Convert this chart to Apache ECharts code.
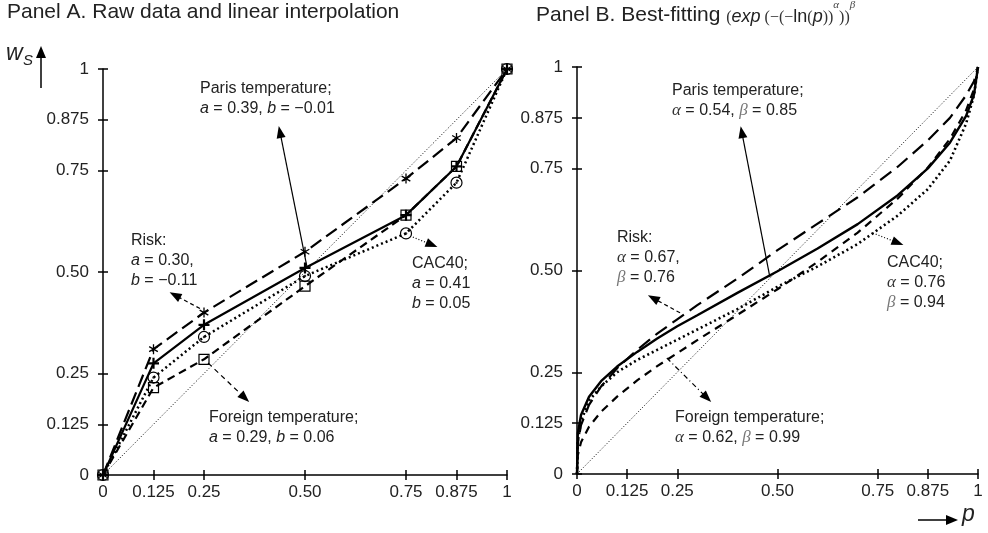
<!DOCTYPE html>
<html><head><meta charset="utf-8">
<script src="https://cdn.jsdelivr.net/npm/echarts@6/dist/echarts.min.js"></script>
<style>html,body{margin:0;padding:0;background:#fff}#c{width:988px;height:533px}</style>
</head><body><div id="c"></div>
<script>
// ---- tick values / labels
const tickValues = [0, 0.125, 0.25, 0.5, 0.75, 0.875, 1];
const tickLabels = ['0', '0.125', '0.25', '0.50', '0.75', '0.875', '1'];

// ---- Panel A: raw data
const rawP       = [0, 0.125, 0.25, 0.5, 0.75, 0.875, 1];
const rawRisk    = [0, 0.31, 0.40, 0.55, 0.73, 0.83, 1];
const rawParis   = [0, 0.275, 0.37, 0.51, 0.64, 0.76, 1];
const rawCAC40   = [0, 0.24, 0.34, 0.49, 0.595, 0.72, 1];
const rawForeign = [0, 0.215, 0.285, 0.465, 0.64, 0.76, 1];

// ---- Panel B: fitted curves
const fitP       = [0, 0.002, 0.01, 0.03, 0.06, 0.1, 0.15, 0.2, 0.25, 0.3, 0.4, 0.5, 0.6, 0.7, 0.8, 0.875, 0.93, 0.97, 0.99, 1];
const fitRisk    = [0, 0.075, 0.12, 0.17, 0.215, 0.26, 0.305, 0.345, 0.38, 0.415, 0.48, 0.55, 0.615, 0.68, 0.755, 0.82, 0.875, 0.93, 0.965, 1];
const fitParis   = [0, 0.10, 0.145, 0.19, 0.228, 0.264, 0.30, 0.333, 0.363, 0.39, 0.445, 0.498, 0.554, 0.614, 0.685, 0.751, 0.814, 0.879, 0.932, 1];
const fitCAC40   = [0, 0.08, 0.13, 0.18, 0.215, 0.25, 0.28, 0.305, 0.33, 0.355, 0.405, 0.46, 0.51, 0.565, 0.635, 0.70, 0.77, 0.86, 0.93, 1];
const fitForeign = [0, 0.046, 0.078, 0.116, 0.153, 0.19, 0.23, 0.265, 0.297, 0.329, 0.391, 0.454, 0.521, 0.593, 0.677, 0.753, 0.823, 0.893, 0.945, 1];

const diagP = [0, 1];
const diagW = [0, 1];

const FONT = 'Liberation Sans';
const INK = '#000';
const TXT = '#222';

function labelFor(v) {
  for (let i = 0; i < tickValues.length; i++) if (Math.abs(tickValues[i] - v) < 1e-9) return tickLabels[i];
  return '';
}
function pairs(xs, ys) { return xs.map((x, i) => [x, ys[i]]); }

function axisPair(kind, gridIndex) {
  const pos = kind === 'x' ? 'bottom' : 'left';
  const main = {
    type: 'value', gridIndex, min: 0, max: 1, position: pos, offset: 0,
    axisLine: { show: true, onZero: false, lineStyle: { color: INK, width: 1.5 } },
    axisTick: { show: true, customValues: tickValues, length: 5, lineStyle: { color: INK, width: 1.5 } },
    axisLabel: { customValues: tickValues, formatter: labelFor, color: TXT, fontSize: 17, fontFamily: FONT, margin: kind === 'x' ? 9 : 14 },
    splitLine: { show: false }
  };
  const inner = {
    type: 'value', gridIndex, min: 0, max: 1, position: pos, offset: 0,
    axisLine: { show: false },
    axisTick: { show: true, inside: true, customValues: tickValues, length: 5, lineStyle: { color: INK, width: 1.5 } },
    axisLabel: { show: false },
    splitLine: { show: false }
  };
  return [main, inner];
}

const ASTER = 'path://M0,-1L0,1M-0.866,-0.5L0.866,0.5M-0.866,0.5L0.866,-0.5';
const PLUS = 'path://M0,-1L0,1M-1,0L1,0';

function arrow(from, to, type, width) {
  return [
    { coord: from, symbol: 'none', lineStyle: { color: INK, type: type, width: width || 1.2 } },
    { coord: to, symbol: 'triangle', symbolSize: [9, 12], itemStyle: { color: INK } }
  ];
}

function diagSeries(xi, yi, arrows) {
  return {
    type: 'line', xAxisIndex: xi, yAxisIndex: yi, data: pairs(diagP, diagW), symbol: 'none',
    lineStyle: { color: INK, width: 1, type: [1, 2] }, z: 1,
    markLine: {
      silent: true, symbol: ['none', 'triangle'], symbolSize: 11,
      label: { show: false }, itemStyle: { color: INK }, lineStyle: { color: INK },
      data: arrows
    }
  };
}

const series = [
  // ---------- Panel A
  diagSeries(0, 0, [
    arrow([0.505, 0.512], [0.438, 0.845], 'solid', 1.2),
    arrow([0.24, 0.41], [0.178, 0.443], [4, 3], 1.2),
    arrow([0.767, 0.586], [0.814, 0.567], [1, 2], 1.2),
    arrow([0.26, 0.276], [0.351, 0.19], [5, 4], 1.2)
  ]),
  { type: 'line', xAxisIndex: 0, yAxisIndex: 0, data: pairs(rawP, rawRisk),
    symbol: ASTER, symbolSize: 10, symbolKeepAspect: true,
    itemStyle: { color: 'transparent', borderColor: INK, borderWidth: 1.3 },
    lineStyle: { color: INK, width: 2.2, type: [13, 6] }, z: 3 },
  { type: 'line', xAxisIndex: 0, yAxisIndex: 0, data: pairs(rawP, rawParis),
    symbol: PLUS, symbolSize: 11,
    itemStyle: { color: 'transparent', borderColor: INK, borderWidth: 2.2 },
    lineStyle: { color: INK, width: 2.2, type: 'solid' }, z: 4 },
  { type: 'line', xAxisIndex: 0, yAxisIndex: 0, data: pairs(rawP, rawCAC40),
    symbol: 'circle', symbolSize: 11,
    itemStyle: { color: 'transparent', borderColor: INK, borderWidth: 1.2 },
    lineStyle: { color: INK, width: 2.5, type: [2, 3] }, z: 3 },
  { type: 'scatter', xAxisIndex: 0, yAxisIndex: 0, data: pairs(rawP, rawCAC40),
    symbol: 'circle', symbolSize: 2.5, itemStyle: { color: INK }, z: 5 },
  { type: 'line', xAxisIndex: 0, yAxisIndex: 0, data: pairs(rawP, rawForeign),
    symbol: 'rect', symbolSize: 10,
    itemStyle: { color: 'transparent', borderColor: INK, borderWidth: 1.2 },
    lineStyle: { color: INK, width: 2.2, type: [8, 5] }, z: 3 },

  // ---------- Panel B
  diagSeries(2, 2, [
    arrow([0.481, 0.484], [0.411, 0.84], 'solid', 1.2),
    arrow([0.257, 0.396], [0.19, 0.432], [4, 3], 1.2),
    arrow([0.738, 0.592], [0.80, 0.568], [1, 2], 1.2),
    arrow([0.224, 0.285], [0.324, 0.187], [5, 3, 1, 3], 1.2)
  ]),
  { type: 'line', xAxisIndex: 2, yAxisIndex: 2, data: pairs(fitP, fitRisk), symbol: 'none',
    lineStyle: { color: INK, width: 2.2, type: [14, 7] }, z: 3 },
  { type: 'line', xAxisIndex: 2, yAxisIndex: 2, data: pairs(fitP, fitParis), symbol: 'none',
    lineStyle: { color: INK, width: 2.4, type: 'solid' }, z: 4 },
  { type: 'line', xAxisIndex: 2, yAxisIndex: 2, data: pairs(fitP, fitCAC40), symbol: 'none',
    lineStyle: { color: INK, width: 2.6, type: [2, 3] }, z: 3 },
  { type: 'line', xAxisIndex: 2, yAxisIndex: 2, data: pairs(fitP, fitForeign), symbol: 'none',
    lineStyle: { color: INK, width: 2.2, type: [8, 6] }, z: 3 }
];

const ax = axisPair('x', 0), ay = axisPair('y', 0), bx = axisPair('x', 1), by = axisPair('y', 1);

const it = { fontStyle: 'italic', fontFamily: FONT, fontSize: 16, fill: TXT };
const gr = { fontStyle: 'italic', fontFamily: 'Liberation Serif', fontSize: 17, fill: '#333' };
const grl = { fontStyle: 'italic', fontFamily: 'Liberation Serif', fontSize: 17, fill: '#777' };

function note(left, top, text, rich) {
  return { type: 'text', left, top, silent: true,
    style: { text, fontFamily: FONT, fontSize: 16, fill: TXT, lineHeight: 20, rich: Object.assign({}, rich || {}) } };
}

const graphic = [
  { type: 'text', left: 7, top: 2, style: { text: 'Panel A. Raw data and linear interpolation', fontFamily: FONT, fontSize: 21, fill: TXT } },
  { type: 'text', left: 536, top: 0, style: {
      text: '{n|Panel B. Best-fitting }{s|(}{e|exp}{s| (−(−}{l|ln}{s|(}{e|p}{s|))}{u|α}{s|))}{u|β}',
      fontFamily: FONT, fontSize: 21, fill: TXT,
      rich: {
        n: { fontFamily: FONT, fontSize: 21, fill: TXT, lineHeight: 26, verticalAlign: 'bottom' },
        s: { fontFamily: 'Liberation Serif', fontSize: 16, fill: '#333', lineHeight: 26, verticalAlign: 'bottom' },
        e: { fontFamily: FONT, fontStyle: 'italic', fontSize: 18, fill: TXT, lineHeight: 26, verticalAlign: 'bottom' },
        l: { fontFamily: FONT, fontSize: 18, fill: TXT, lineHeight: 26, verticalAlign: 'bottom' },
        u: { fontFamily: 'Liberation Serif', fontStyle: 'italic', fontSize: 11, fill: '#444', lineHeight: 26, verticalAlign: 'top' }
      } } },
  // w_S axis label
  { type: 'text', left: 6, top: 42, style: { text: 'w', fontFamily: FONT, fontStyle: 'italic', fontSize: 23, fill: TXT } },
  { type: 'text', left: 23, top: 53, style: { text: 'S', fontFamily: FONT, fontStyle: 'italic', fontSize: 15, fill: TXT } },
  { type: 'line', shape: { x1: 41, y1: 88, x2: 41, y2: 56 }, style: { stroke: INK, lineWidth: 1.5 } },
  { type: 'polygon', shape: { points: [[36, 58], [46, 58], [41, 46]] }, style: { fill: INK } },
  // p axis label
  { type: 'line', shape: { x1: 918, y1: 520, x2: 948, y2: 520 }, style: { stroke: INK, lineWidth: 1.5 } },
  { type: 'polygon', shape: { points: [[946, 515], [946, 525], [958, 520]] }, style: { fill: INK } },
  { type: 'text', left: 962, top: 503, style: { text: 'p', fontFamily: FONT, fontStyle: 'italic', fontSize: 23, fill: TXT } },

  // Panel A annotations
  note(200, 79, 'Paris temperature;\n{i|a} = 0.39, {i|b} = −0.01', { i: it }),
  note(131, 231, 'Risk:\n{i|a} = 0.30,\n{i|b} = −0.11', { i: it }),
  note(412, 254, 'CAC40;\n{i|a} = 0.41\n{i|b} = 0.05', { i: it }),
  note(209, 408, 'Foreign temperature;\n{i|a} = 0.29, {i|b} = 0.06', { i: it }),
  // Panel B annotations
  note(672, 81, 'Paris temperature;\n{g|α} = 0.54, {h|β} = 0.85', { g: gr, h: grl }),
  note(617, 228, 'Risk:\n{g|α} = 0.67,\n{h|β} = 0.76', { g: gr, h: grl }),
  note(887, 253, 'CAC40;\n{g|α} = 0.76\n{h|β} = 0.94', { g: gr, h: grl }),
  note(675, 408, 'Foreign temperature;\n{g|α} = 0.62, {h|β} = 0.99', { g: gr, h: grl })
];

const option = {
  animation: false,
  backgroundColor: '#fff',
  textStyle: { fontFamily: FONT },
  grid: [
    { left: 103, top: 69, width: 404, height: 406, containLabel: false },
    { left: 577, top: 67, width: 401, height: 407, containLabel: false }
  ],
  xAxis: [ax[0], ax[1], bx[0], bx[1]],
  yAxis: [ay[0], ay[1], by[0], by[1]],
  series: series,
  graphic: graphic
};
const chart = echarts.init(document.getElementById('c'), null, { renderer: 'canvas' });
chart.setOption(option);
</script>
</body></html>
